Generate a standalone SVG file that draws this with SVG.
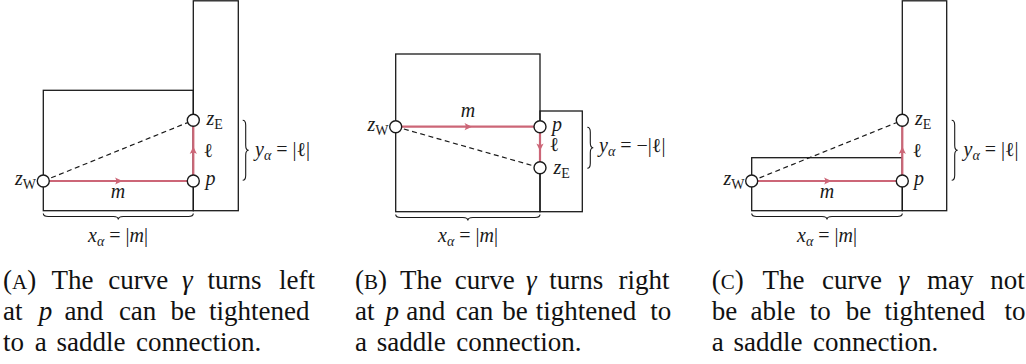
<svg xmlns="http://www.w3.org/2000/svg" width="1026" height="364" viewBox="0 0 1026 364">
<style>
.frame{fill:none;stroke:#1a1a1a;stroke-width:1.3}
.curve{fill:none;stroke:#CC6677;stroke-width:2.2}
.dash{fill:none;stroke:#1a1a1a;stroke-width:1.2;stroke-dasharray:5 3.5}
.node{fill:#fff;stroke:#1a1a1a;stroke-width:1.4}
.brace{fill:none;stroke:#1a1a1a;stroke-width:1.1}
text{font-family:'Liberation Serif','Tinos','Noto Serif','DejaVu Serif','Times New Roman',serif}
.lbl{font-size:20px;fill:#1a1a1a}
.i{font-style:italic}
.sub{font-size:14px}
.cap{font-size:27px;fill:#111}
.sc{font-size:21px}
</style>
<defs>
<path id="ah" d="M0,0 L-7.5,-3.6 Q-5,0 -7.5,3.6 Z" fill="#CC6677"/>
</defs>

<!-- Panel A -->
<g id="panel-a">
<rect class="frame" x="193.3" y="0.8" width="45" height="209.9"/>
<rect class="frame" x="43.3" y="90.3" width="150" height="120.4"/>
<g id="a-connectors">
<path class="dash" d="M43.3,181 L193.3,120.3"/>
<path class="curve" d="M43.3,181 H193.3"/>
<path class="curve" d="M193.3,181 V120.3"/>
<use href="#ah" transform="translate(122.5,181)"/>
<use href="#ah" transform="translate(193.3,146.5) rotate(-90)"/>
<path class="brace" d="M43.3,213.5 C43.3,215.5 45.3,216.5 48.3,216.5 L113.3,216.5 C116.3,216.5 118.3,217.5 118.3,219.5 C118.3,217.5 120.3,216.5 123.3,216.5 L188.3,216.5 C191.3,216.5 193.3,215.5 193.3,213.5"/>
<path class="brace" d="M242.7,120.3 C244.7,120.3 245.7,122.3 245.7,125.3 L245.7,145.3 C245.7,148.3 246.7,150.3 248.7,150.3 C246.7,150.3 245.7,152.3 245.7,155.3 L245.7,175.3 C245.7,178.3 244.7,180.3 242.7,180.3"/>
<text class="lbl i" x="118" y="197.7" text-anchor="middle">m</text>
<text class="lbl" x="203.5" y="157">ℓ</text>
<text class="lbl" x="118" y="241.5" text-anchor="middle"><tspan class="i">x</tspan><tspan class="sub i" dy="4">α</tspan><tspan dy="-4"> = |</tspan><tspan class="i">m</tspan>|</text>
<text class="lbl" x="255" y="156"><tspan class="i">y</tspan><tspan class="sub i" dy="4">α</tspan><tspan dy="-4"> = |ℓ|</tspan></text>
</g>
<g id="a-zW"><circle class="node" cx="43.3" cy="181" r="6"/><text class="lbl" x="36" y="185" text-anchor="end"><tspan class="i">z</tspan><tspan class="sub" dy="4">W</tspan></text></g>
<g id="a-p"><circle class="node" cx="193.3" cy="181" r="6"/><text class="lbl i" x="205.5" y="185">p</text></g>
<g id="a-zE"><circle class="node" cx="193.3" cy="120.3" r="6"/><text class="lbl" x="206.5" y="124.5"><tspan class="i">z</tspan><tspan class="sub" dy="4">E</tspan></text></g>
</g>

<!-- Panel B -->
<g id="panel-b">
<rect class="frame" x="395.7" y="54" width="144.3" height="157.7"/>
<rect class="frame" x="540" y="111" width="42.3" height="100.7"/>
<g id="b-connectors">
<path class="dash" d="M395.7,126.7 L540,167.7"/>
<path class="curve" d="M395.7,126.7 H540"/>
<path class="curve" d="M540,126.7 V167.7"/>
<use href="#ah" transform="translate(472,126.7)"/>
<use href="#ah" transform="translate(540,151) rotate(90)"/>
<path class="brace" d="M395.7,214.5 C395.7,216.5 397.7,217.5 400.7,217.5 L462.85,217.5 C465.85,217.5 467.85,218.5 467.85,220.5 C467.85,218.5 469.85,217.5 472.85,217.5 L535,217.5 C538,217.5 540,216.5 540,214.5"/>
<path class="brace" d="M587.3,127.3 C589.3,127.3 590.3,129.3 590.3,132.3 L590.3,142.8 C590.3,145.8 591.3,147.8 593.3,147.8 C591.3,147.8 590.3,149.8 590.3,152.8 L590.3,163.3 C590.3,166.3 589.3,168.3 587.3,168.3"/>
<text class="lbl i" x="468" y="117" text-anchor="middle">m</text>
<text class="lbl" x="549.5" y="151">ℓ</text>
<text class="lbl" x="468" y="241.5" text-anchor="middle"><tspan class="i">x</tspan><tspan class="sub i" dy="4">α</tspan><tspan dy="-4"> = |</tspan><tspan class="i">m</tspan>|</text>
<text class="lbl" x="599" y="152"><tspan class="i">y</tspan><tspan class="sub i" dy="4">α</tspan><tspan dy="-4"> = −|ℓ|</tspan></text>
</g>
<g id="b-zW"><circle class="node" cx="395.7" cy="126.7" r="6"/><text class="lbl" x="388.5" y="130.7" text-anchor="end"><tspan class="i">z</tspan><tspan class="sub" dy="4">W</tspan></text></g>
<g id="b-p"><circle class="node" cx="540" cy="126.7" r="6"/><text class="lbl i" x="552" y="130.7">p</text></g>
<g id="b-zE"><circle class="node" cx="540" cy="167.7" r="6"/><text class="lbl" x="553.5" y="173.5"><tspan class="i">z</tspan><tspan class="sub" dy="4">E</tspan></text></g>
</g>

<!-- Panel C -->
<g id="panel-c">
<rect class="frame" x="902.3" y="0.8" width="44.4" height="209.9"/>
<rect class="frame" x="751.7" y="157.7" width="150.6" height="53"/>
<g id="c-connectors">
<path class="dash" d="M751.7,181 L902.3,120.3"/>
<path class="curve" d="M751.7,181 H902.3"/>
<path class="curve" d="M902.3,181 V120.3"/>
<use href="#ah" transform="translate(831.5,181)"/>
<use href="#ah" transform="translate(902.3,146.5) rotate(-90)"/>
<path class="brace" d="M751.7,213.5 C751.7,215.5 753.7,216.5 756.7,216.5 L822,216.5 C825,216.5 827,217.5 827,219.5 C827,217.5 829,216.5 832,216.5 L897.3,216.5 C900.3,216.5 902.3,215.5 902.3,213.5"/>
<path class="brace" d="M951.7,120.3 C953.7,120.3 954.7,122.3 954.7,125.3 L954.7,145.3 C954.7,148.3 955.7,150.3 957.7,150.3 C955.7,150.3 954.7,152.3 954.7,155.3 L954.7,175.3 C954.7,178.3 953.7,180.3 951.7,180.3"/>
<text class="lbl i" x="827" y="197.7" text-anchor="middle">m</text>
<text class="lbl" x="912.5" y="157">ℓ</text>
<text class="lbl" x="827" y="241.5" text-anchor="middle"><tspan class="i">x</tspan><tspan class="sub i" dy="4">α</tspan><tspan dy="-4"> = |</tspan><tspan class="i">m</tspan>|</text>
<text class="lbl" x="963.5" y="156"><tspan class="i">y</tspan><tspan class="sub i" dy="4">α</tspan><tspan dy="-4"> = |ℓ|</tspan></text>
</g>
<g id="c-zW"><circle class="node" cx="751.7" cy="181" r="6"/><text class="lbl" x="744.5" y="185" text-anchor="end"><tspan class="i">z</tspan><tspan class="sub" dy="4">W</tspan></text></g>
<g id="c-p"><circle class="node" cx="902.3" cy="181" r="6"/><text class="lbl i" x="914" y="185">p</text></g>
<g id="c-zE"><circle class="node" cx="902.3" cy="120.3" r="6"/><text class="lbl" x="915" y="124.5"><tspan class="i">z</tspan><tspan class="sub" dy="4">E</tspan></text></g>
</g>

<!-- Captions -->
<g id="captions">
<text class="cap" y="288.5"><tspan x="3">(<tspan class="sc">A</tspan>)</tspan><tspan x="51.4">The</tspan><tspan x="108.3">curve</tspan><tspan x="181.9" class="i">γ</tspan><tspan x="207.5">turns</tspan><tspan x="279.1">left</tspan></text>
<text class="cap" y="319.7"><tspan x="3">at</tspan><tspan x="38.7" class="i">p</tspan><tspan x="64.4">and</tspan><tspan x="118.9">can</tspan><tspan x="170.5">be</tspan><tspan x="209.1">tightened</tspan></text>
<text class="cap" y="350.9"><tspan x="3">to</tspan><tspan x="34.8">a</tspan><tspan x="56.5">saddle</tspan><tspan x="136.1">connection.</tspan></text>

<text class="cap" y="288.5"><tspan x="355">(<tspan class="sc">B</tspan>)</tspan><tspan x="400.1">The</tspan><tspan x="454.7">curve</tspan><tspan x="526" class="i">γ</tspan><tspan x="549.2">turns</tspan><tspan x="618.5">right</tspan></text>
<text class="cap" y="319.7"><tspan x="355">at</tspan><tspan x="385.6" class="i">p</tspan><tspan x="406.3">and</tspan><tspan x="455.7">can</tspan><tspan x="502.2">be</tspan><tspan x="535.8">tightened</tspan><tspan x="650.2">to</tspan></text>
<text class="cap" y="350.9"><tspan x="355">a</tspan><tspan x="376.7">saddle</tspan><tspan x="456.3">connection.</tspan></text>

<text class="cap" y="288.5"><tspan x="711.7">(<tspan class="sc">C</tspan>)</tspan><tspan x="762.4">The</tspan><tspan x="822.1">curve</tspan><tspan x="898.5" class="i">γ</tspan><tspan x="926.9">may</tspan><tspan x="990.2">not</tspan></text>
<text class="cap" y="319.7"><tspan x="711.7">be</tspan><tspan x="750.6">able</tspan><tspan x="809.7">to</tspan><tspan x="845.7">be</tspan><tspan x="884.6">tightened</tspan><tspan x="1004.4">to</tspan></text>
<text class="cap" y="350.9"><tspan x="711.7">a</tspan><tspan x="733.4">saddle</tspan><tspan x="813">connection.</tspan></text>
</g>
</svg>
